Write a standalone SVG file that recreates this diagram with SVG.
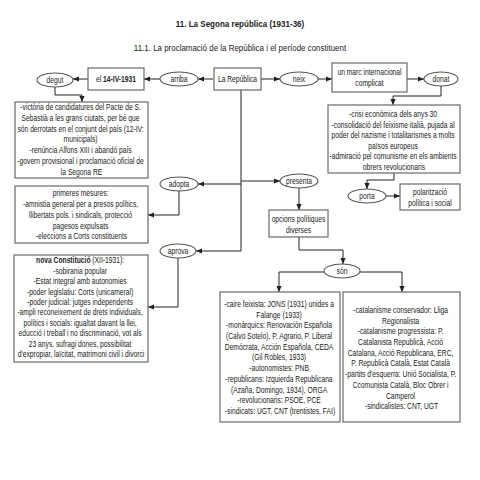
<svg xmlns="http://www.w3.org/2000/svg" width="480" height="480" viewBox="0 0 480 480">
<style>
text{font-family:"Liberation Sans",Arial,sans-serif;font-size:8.2px;fill:#222;text-anchor:middle}
.title{font-size:9.8px;font-weight:bold}
.sub{font-size:9.7px}
.b{font-weight:bold}
.box{fill:#fff;stroke:#6a6a6a;stroke-width:1.2}
.ell{fill:#fff;stroke:#555;stroke-width:1.1}
.con{fill:none;stroke:#222;stroke-width:1}
.arr{marker-end:url(#ah)}
</style>
<defs>
<marker id="ah" markerUnits="userSpaceOnUse" markerWidth="6" markerHeight="6" refX="6" refY="3" orient="auto">
<path d="M0,0.4 L6,3 L0,5.6 z" fill="#222"/>
</marker>
</defs>
<rect width="480" height="480" fill="#fff"/>
<text class="title" transform="translate(240,0) scale(0.82,1)" x="0" y="27">11. La Segona república (1931-36)</text>
<text class="sub" transform="translate(240,0) scale(0.82,1)" x="0" y="51">11.1. La proclamació de la República i el període constituent</text>

<g id="connectors">
<path class="con arr" d="M213,79 H198"/>
<path class="con arr" d="M160,79 H144"/>
<path class="con arr" d="M88,79 H73"/>
<path class="con arr" d="M261,79 H280"/>
<path class="con arr" d="M318,79 H332"/>
<path class="con arr" d="M407,79 H424"/>
<path class="con arr" d="M55,87 V95 H82 V102"/>
<path class="con arr" d="M441,86 V96 H393 V105"/>
<path class="con" d="M241,90 V251"/>
<path class="con arr" d="M241,184 H198"/>
<path class="con arr" d="M179,191 V215 H148"/>
<path class="con arr" d="M241,181 H280"/>
<path class="con arr" d="M241,251 H196"/>
<path class="con arr" d="M178,258 V307 H148"/>
<path class="con arr" d="M394,173 V180 H367 V189"/>
<path class="con arr" d="M386,196 H400"/>
<path class="con arr" d="M299,188 V210"/>
<path class="con arr" d="M299,237 V250 H343 V264"/>
<path class="con arr" d="M324,272 H279 V292"/>
<path class="con arr" d="M360,272 H402 V292"/>
</g>

<g id="degut"><ellipse class="ell" cx="55" cy="80" rx="18" ry="7"/><text transform="translate(55,0) scale(0.82,1)" x="0" y="83">degut</text></g>
<g id="data"><rect class="box" x="88" y="68" width="56" height="22"/><text transform="translate(116,0) scale(0.82,1)" x="0" y="82.5">el <tspan class="b">14-IV-1931</tspan></text></g>
<g id="arriba"><ellipse class="ell" cx="179" cy="79" rx="19" ry="7"/><text transform="translate(179,0) scale(0.82,1)" x="0" y="82">arriba</text></g>
<g id="republica"><rect class="box" x="214" y="68" width="47" height="22"/><text transform="translate(237.5,0) scale(0.82,1)" x="0" y="82.5">La República</text></g>
<g id="neix"><ellipse class="ell" cx="299" cy="79" rx="19" ry="7"/><text transform="translate(299,0) scale(0.82,1)" x="0" y="82">neix</text></g>
<g id="marc"><rect class="box" x="332" y="63" width="75" height="29"/><text transform="translate(369.5,0) scale(0.82,1)"><tspan x="0" y="75.5">un marc internacional</tspan><tspan x="0" y="86">complicat</tspan></text></g>
<g id="donat"><ellipse class="ell" cx="441" cy="79" rx="17" ry="7"/><text transform="translate(441,0) scale(0.82,1)" x="0" y="82">donat</text></g>

<g id="causes"><rect class="box" x="15" y="102" width="133" height="76"/>
<text transform="translate(81.5,0) scale(0.82,1)">
<tspan x="0" y="110">-victòria de candidatures del Pacte de S.</tspan>
<tspan x="0" y="120.8">Sebastià a les grans ciutats, per bé que</tspan>
<tspan x="0" y="131.6">són derrotats en el conjunt del país (12-IV:</tspan>
<tspan x="0" y="142.4">municipals)</tspan>
<tspan x="0" y="153.2">-renúncia Alfons XIII i abandó país</tspan>
<tspan x="0" y="164">-govern provisional i proclamació oficial de</tspan>
<tspan x="0" y="174.8">la Segona RE</tspan>
</text></g>

<g id="context"><rect class="box" x="328" y="105" width="132" height="68"/>
<text transform="translate(394,0) scale(0.82,1)">
<tspan x="0" y="117">-crisi econòmica dels anys 30</tspan>
<tspan x="0" y="127.6">-consolidació del feixisme italià, pujada al</tspan>
<tspan x="0" y="138.2">poder del nazisme i totalitarismes a molts</tspan>
<tspan x="0" y="148.8">països europeus</tspan>
<tspan x="0" y="159.4">-admiració pel comunisme en els ambients</tspan>
<tspan x="0" y="170">obrers revolucionaris</tspan>
</text></g>

<g id="adopta"><ellipse class="ell" cx="179" cy="184" rx="19" ry="7"/><text transform="translate(179,0) scale(0.82,1)" x="0" y="187">adopta</text></g>
<g id="presenta"><ellipse class="ell" cx="299" cy="181" rx="19" ry="7"/><text transform="translate(299,0) scale(0.82,1)" x="0" y="184">presenta</text></g>
<g id="porta"><ellipse class="ell" cx="367" cy="196" rx="19" ry="7"/><text transform="translate(367,0) scale(0.82,1)" x="0" y="199">porta</text></g>
<g id="polaritzacio"><rect class="box" x="400" y="184" width="60" height="26"/><text transform="translate(430,0) scale(0.82,1)"><tspan x="0" y="195.5">polarització</tspan><tspan x="0" y="206">política i social</tspan></text></g>

<g id="mesures"><rect class="box" x="15" y="186" width="133" height="57"/>
<text transform="translate(81.5,0) scale(0.82,1)">
<tspan x="0" y="196.5">primeres mesures:</tspan>
<tspan x="0" y="207.2">-amnistia general per a presos polítics,</tspan>
<tspan x="0" y="218">llibertats pols. i sindicals, protecció</tspan>
<tspan x="0" y="228.7">pagesos expulsats</tspan>
<tspan x="0" y="239.5">-eleccions a Corts constituents</tspan>
</text></g>

<g id="opcions"><rect class="box" x="269" y="210" width="59" height="27"/><text transform="translate(298.5,0) scale(0.82,1)"><tspan x="0" y="222.5">opcions polítiques</tspan><tspan x="0" y="233">diverses</tspan></text></g>

<g id="aprova"><ellipse class="ell" cx="178" cy="251" rx="18" ry="7"/><text transform="translate(178,0) scale(0.82,1)" x="0" y="254">aprova</text></g>
<g id="son"><ellipse class="ell" cx="342" cy="271" rx="18" ry="7"/><text transform="translate(342,0) scale(0.82,1)" x="0" y="274">són</text></g>

<g id="constitucio"><rect class="box" x="14" y="255" width="134" height="107"/>
<text transform="translate(81,0) scale(0.82,1)">
<tspan x="0" y="263.5"><tspan class="b">nova Constitució</tspan> (XII-1931):</tspan>
<tspan x="0" y="273.9">-sobirania popular</tspan>
<tspan x="0" y="284.3">-Estat integral amb autonomies</tspan>
<tspan x="0" y="294.7">-poder legislatiu: Corts (unicameral)</tspan>
<tspan x="0" y="305.1">-poder judicial: jutges independents</tspan>
<tspan x="0" y="315.5">-ampli reconeixement de drets individuals,</tspan>
<tspan x="0" y="325.9">polítics i socials: igualtat davant la llei,</tspan>
<tspan x="0" y="336.3">educció i treball i no discriminació, vot als</tspan>
<tspan x="0" y="346.7">23 anys, sufragi dones, possibilitat</tspan>
<tspan x="0" y="357.1">d'expropiar, laïcitat, matrimoni civil i divorci</tspan>
</text></g>

<g id="espanya"><rect class="box" x="220" y="292" width="120" height="130"/>
<text transform="translate(280,0) scale(0.82,1)">
<tspan x="0" y="307">-caire feixista: JONS (1931) unides a</tspan>
<tspan x="0" y="317.7">Falange (1933)</tspan>
<tspan x="0" y="328.4">-monàrquics: Renovación Española</tspan>
<tspan x="0" y="339.1">(Calvo Sotelo), P. Agrario, P. Liberal</tspan>
<tspan x="0" y="349.8">Demócrata, Acción Española, CEDA</tspan>
<tspan x="0" y="360.5">(Gil Robles, 1933)</tspan>
<tspan x="0" y="371.2">-autonomistes: PNB</tspan>
<tspan x="0" y="381.9">-republicans: Izquierda Republicana</tspan>
<tspan x="0" y="392.6">(Azaña, Domingo, 1934), ORGA</tspan>
<tspan x="0" y="403.3">-revolucionaris: PSOE, PCE</tspan>
<tspan x="0" y="414">-sindicats: UGT, CNT (trentistes, FAI)</tspan>
</text></g>

<g id="catalunya"><rect class="box" x="343" y="292" width="117" height="130"/>
<text transform="translate(401.5,0) scale(0.82,1)">
<tspan x="0" y="313">-catalanisme conservador: Lliga</tspan>
<tspan x="0" y="323.7">Regionalista</tspan>
<tspan x="0" y="334.4">-catalanisme progressista: P.</tspan>
<tspan x="0" y="345.1">Catalanista Republicà, Acció</tspan>
<tspan x="0" y="355.8">Catalana, Acció Republicana, ERC,</tspan>
<tspan x="0" y="366.5">P. Republicà Català, Estat Català</tspan>
<tspan x="0" y="377.2">-partits d'esquerra: Unió Socialista, P.</tspan>
<tspan x="0" y="387.9">Ccomunista Català, Bloc Obrer i</tspan>
<tspan x="0" y="398.6">Camperol</tspan>
<tspan x="0" y="409.3">-sindicalistes: CNT, UGT</tspan>
</text></g>
</svg>
